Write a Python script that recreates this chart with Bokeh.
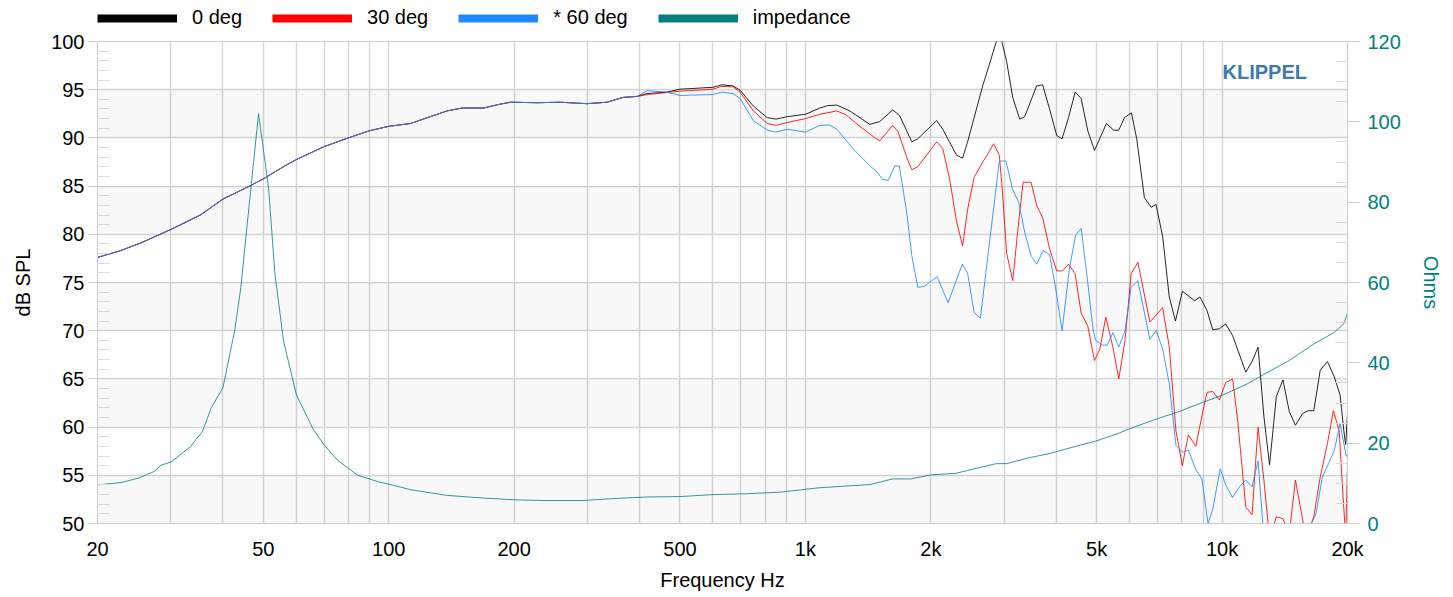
import numpy as np
from bokeh.plotting import figure
from bokeh.layouts import column
from bokeh.models import Range1d, LinearAxis, FixedTicker, Legend, LegendItem, Label, BoxAnnotation
from bokeh.embed import file_html
from bokeh.resources import INLINE

# ---------------- data ----------------
# common part of the three SPL curves (they coincide below ~400 Hz)
freq_low = [20, 22.7, 25.4, 30, 35.3, 40, 46.6, 50, 56.6, 60, 70, 80, 90, 100, 113, 121,
            138, 150, 169, 185, 196, 227, 258, 299, 334, 365, 394]
spl_low = [77.6, 78.3, 79.1, 80.5, 82.0, 83.65, 85.05, 85.75, 87.15, 87.75, 89.1, 90.0, 90.75,
           91.2, 91.5, 91.95, 92.8, 93.1, 93.1, 93.5, 93.7, 93.65, 93.7, 93.55, 93.7, 94.2, 94.3]

freq_0 = [417, 465, 500, 600, 630, 670, 697, 750, 810, 850, 905, 1000, 1083, 1130, 1190, 1278,
          1428, 1508, 1621, 1684, 1800, 1860, 2066, 2136, 2306, 2384, 2451, 2664, 2878, 2958,
          3041, 3145, 3268, 3360, 3589, 3710, 3855, 4010, 4130, 4280, 4440, 4590, 4760, 4940,
          5280, 5490, 5650, 5830, 6060, 6240, 6510, 6760, 6940, 7200, 7470, 7730, 8030, 8600,
          8850, 9200, 9500, 9850, 10200, 10600, 11400, 11800, 12200, 12600, 13000, 13500,
          14000, 14500, 15000, 15600, 16100, 16600, 17200, 17900, 18600, 19200, 19600, 19800,
          20000]
spl_0 = [94.6, 94.75, 95.05, 95.25, 95.5, 95.4, 94.95, 93.3, 92.1, 91.95, 92.2, 92.45, 93.1,
         93.35, 93.4, 92.8, 91.4, 91.7, 92.9, 92.3, 89.6, 89.9, 91.8, 90.9, 88.2, 87.9, 89.6,
         95.4, 100.1, 100.1, 97.9, 94.2, 91.95, 92.2, 95.4, 95.5, 93.0, 90.25, 89.9, 92.1,
         94.75, 94.1, 90.75, 88.7, 91.5, 90.8, 90.8, 92.1, 92.6, 89.9, 83.8, 82.8, 83.1, 79.8,
         73.5, 71.0, 74.1, 73.1, 73.5, 72.1, 70.1, 70.2, 70.7, 69.5, 65.7, 66.8, 68.3, 61.1,
         56.1, 63.2, 64.9, 61.6, 60.2, 61.4, 61.7, 61.7, 65.9, 66.8, 65.2, 63.3, 59.6, 58.2,
         61.4]

freq_30 = [417, 465, 500, 600, 630, 670, 697, 750, 810, 850, 905, 1000, 1083, 1190, 1250, 1360,
           1470, 1508, 1621, 1670, 1750, 1800, 1860, 2066, 2136, 2220, 2306, 2384, 2451, 2540,
           2664, 2730, 2830, 2920, 2970, 3041, 3145, 3250, 3330, 3480, 3590, 3710, 3855, 4010,
           4140, 4280, 4440, 4590, 4760, 4940, 5090, 5260, 5470, 5650, 5850, 6050, 6280, 6710,
           6940, 7200, 7470, 7750, 8030, 8300, 8650, 8950, 9200, 9500, 9850, 10200, 10600,
           10900, 11400, 11800, 12200, 12600, 13000, 13500, 14000, 14500, 15000, 15900, 16600,
           17200, 17900, 18500, 19100, 19500, 19800, 20000]
spl_30 = [94.5, 94.7, 94.85, 95.05, 95.35, 95.3, 94.75, 92.8, 91.5, 91.3, 91.6, 92.0, 92.45,
          92.8, 92.4, 91.1, 90.0, 89.7, 91.3, 90.6, 88.0, 86.7, 87.0, 89.6, 88.9, 85.7, 81.3,
          78.8, 82.6, 85.9, 87.5, 88.2, 89.4, 88.2, 84.5, 78.0, 75.2, 81.3, 85.4, 85.4, 83.0,
          81.7, 78.5, 76.2, 76.2, 76.9, 75.9, 71.8, 70.5, 66.9, 68.1, 71.4, 68.3, 65.0, 69.0,
          75.9, 77.1, 70.9, 71.6, 72.4, 68.3, 59.6, 56.0, 59.2, 58.0, 61.2, 63.6, 63.7, 62.8,
          64.6, 65.0, 60.7, 51.7, 50.9, 60.0, 54.5, 48.5, 50.7, 50.5, 49.0, 54.5, 48.5, 50.7,
          54.8, 58.3, 61.7, 59.6, 53.1, 48.5, 56.0]

freq_60 = [417, 465, 500, 600, 630, 670, 697, 750, 810, 850, 905, 1000, 1083, 1140, 1190, 1300,
           1430, 1490, 1530, 1580, 1640, 1680, 1750, 1800, 1860, 1930, 2070, 2200, 2380, 2450,
           2540, 2630, 2920, 3030, 3140, 3250, 3360, 3480, 3590, 3720, 3855, 3990, 4130, 4300,
           4450, 4590, 4740, 4900, 4970, 5170, 5300, 5470, 5650, 5850, 6050, 6280, 6710, 6950,
           7200, 7470, 7750, 8030, 8300, 8650, 8950, 9250, 9500, 9900, 10200, 10600, 11000,
           11400, 11800, 12200, 12600, 13500, 14500, 15500, 16300, 16800, 17400, 18100, 18600,
           19200, 19850, 20000]
spl_60 = [94.9, 94.75, 94.4, 94.5, 94.75, 94.6, 94.1, 91.8, 90.8, 90.6, 90.9, 90.6, 91.3, 91.35,
          90.9, 88.9, 87.1, 86.4, 85.7, 85.6, 87.1, 87.1, 82.3, 77.8, 74.5, 74.6, 75.6, 72.9,
          76.9, 76.0, 71.9, 71.3, 87.6, 87.6, 84.7, 83.3, 80.2, 77.8, 76.9, 78.3, 77.9, 74.3,
          70.0, 76.4, 79.9, 80.6, 75.7, 70.2, 69.0, 68.5, 68.5, 69.8, 68.3, 70.0, 74.5, 75.2,
          69.1, 70.0, 68.1, 64.5, 58.1, 57.4, 57.6, 55.6, 54.6, 50.0, 51.5, 55.7, 54.0, 52.7,
          53.8, 54.5, 53.8, 56.5, 48.5, 47.5, 47.0, 47.5, 49.8, 51.0, 54.8, 56.4, 57.6, 60.4,
          57.0, 57.0]

freq_imp = [20, 22.8, 25.1, 27.4, 28.4, 30, 33.4, 35.7, 37.5, 40, 42.7, 44.2, 45.7, 47.3, 48.7,
            51.5, 53.3, 55.9, 60, 65.7, 70, 75.5, 84.3, 95, 100, 113, 138, 165, 200, 240, 290,
            345, 417, 500, 600, 720, 870, 1080, 1430, 1620, 1790, 2000, 2300, 2450, 2870, 3040,
            3450, 3850, 4450, 4970, 5660, 6000, 7000, 7900, 9000, 10000, 11500, 13000, 14500,
            16600, 18600, 19600, 20000]
imp_ohm = [9.6, 10.2, 11.3, 13.0, 14.5, 15.3, 19.1, 22.9, 28.8, 33.8, 48.1, 59.0, 74.1, 89.2,
           102.0, 83.3, 62.3, 45.5, 32.1, 23.7, 19.5, 15.7, 12.0, 10.3, 9.8, 8.4, 7.0, 6.4, 5.9,
           5.7, 5.7, 6.2, 6.6, 6.7, 7.2, 7.4, 7.8, 8.9, 9.7, 11.1, 11.1, 12.1, 12.5, 13.2, 14.9,
           14.9, 16.4, 17.4, 19.2, 20.5, 22.5, 23.6, 26.1, 27.9, 30.2, 31.9, 34.8, 37.9, 40.6,
           44.7, 47.6, 49.7, 52.4]

x_ticks = [20, 50, 100, 200, 500, 1000, 2000, 5000, 10000, 20000]
x_tick_labels = ["20", "50", "100", "200", "500", "1k", "2k", "5k", "10k", "20k"]
series_names = ["0 deg", "30 deg", "* 60 deg", "impedance"]
series_colors = ["#000000", "#ff0000", "#1e88ff", "#008080"]

# ---------------- figure ----------------
FONT = "Liberation Sans"
TEAL = "#008080"
W = 1453
LEG_H = 29

p = figure(width=W, height=597 - LEG_H, x_axis_type="log",
           x_range=Range1d(20, 20000), y_range=Range1d(50, 100),
           output_backend="svg", toolbar_location=None,
           min_border_left=97, min_border_right=106, min_border_top=12, min_border_bottom=74)
p.outline_line_color = "#cccccc"
p.background_fill_color = "white"
p.border_fill_color = "white"

# alternating bands (every other 5 dB strip)
for lo in range(50, 100, 10):
    p.add_layout(BoxAnnotation(bottom=lo, top=lo + 5, fill_color="#000000", fill_alpha=0.028,
                               line_color=None, level="underlay"))

# grids
grid_x = []
for dec in [10, 100, 1000, 10000]:
    for m in range(1, 10):
        v = dec * m
        if 20 <= v <= 20000:
            grid_x.append(v)
grid_x.append(20000)
p.xgrid.ticker = FixedTicker(ticks=grid_x)
p.xgrid.grid_line_color = "#d6d6d6"
p.xgrid.grid_line_width = 1.5
p.ygrid.ticker = FixedTicker(ticks=list(range(50, 101, 5)))
p.ygrid.grid_line_color = "#d6d6d6"
p.ygrid.grid_line_width = 1.5

# x axis
p.xaxis.ticker = FixedTicker(ticks=x_ticks)
p.xaxis.major_label_overrides = {t: l for t, l in zip(x_ticks, x_tick_labels)}
p.xaxis.axis_label = "Frequency Hz"
p.xaxis.axis_line_color = "#cccccc"
p.xaxis.major_tick_line_color = None
p.xaxis.minor_tick_line_color = None
p.xaxis.major_label_standoff = 8
p.xaxis.axis_label_standoff = 6

# left y axis
p.yaxis.ticker = FixedTicker(ticks=list(range(50, 101, 5)),
                             minor_ticks=[v for v in range(50, 101) if v % 5])
p.yaxis.axis_label = "dB SPL"
p.yaxis.axis_line_color = "#cccccc"
p.yaxis.major_tick_line_color = "#cccccc"
p.yaxis.major_tick_out = 9
p.yaxis.major_tick_in = 0
p.yaxis.minor_tick_line_color = "#d9d9d9"
p.yaxis.minor_tick_in = 12
p.yaxis.minor_tick_out = 0
p.yaxis.major_label_standoff = 4
p.yaxis.axis_label_standoff = 14

# right y axis (impedance)
p.extra_y_ranges = {"ohm": Range1d(0, 120)}
ax_r = LinearAxis(y_range_name="ohm",
                  ticker=FixedTicker(ticks=list(range(0, 121, 20)),
                                     minor_ticks=[v for v in range(0, 121, 5) if v % 20]),
                  axis_label="Ohms")
ax_r.axis_line_color = "#cccccc"
ax_r.major_tick_line_color = "#cccccc"
ax_r.major_tick_out = 12
ax_r.major_tick_in = 0
ax_r.minor_tick_line_color = "#d9d9d9"
ax_r.minor_tick_in = 12
ax_r.minor_tick_out = 0
ax_r.major_label_standoff = 8
ax_r.axis_label_standoff = 16
ax_r.major_label_text_color = TEAL
ax_r.axis_label_text_color = TEAL
p.add_layout(ax_r, "right")

for ax in [p.xaxis[0], p.yaxis[0], ax_r]:
    ax.major_label_text_font = FONT
    ax.major_label_text_font_size = "20px"
    ax.axis_label_text_font = FONT
    ax.axis_label_text_font_size = "20px"
    ax.axis_label_text_font_style = "normal"
for ax in [p.xaxis[0], p.yaxis[0]]:
    ax.major_label_text_color = "#000000"
    ax.axis_label_text_color = "#000000"

# ---------------- curves ----------------
f0 = freq_low + freq_0
s0 = spl_low + spl_0
f30 = freq_low + freq_30
s30 = spl_low + spl_30
f60 = freq_low + freq_60
s60 = spl_low + spl_60

p.line(f0, s0, line_color=series_colors[0], line_width=1, line_alpha=0.85)
p.line(f30, s30, line_color=series_colors[1], line_width=1, line_alpha=0.85)
p.line(f60, s60, line_color=series_colors[2], line_width=1, line_alpha=0.85)
p.line(freq_imp, imp_ohm, line_color=series_colors[3], line_width=1, line_alpha=0.8,
       y_range_name="ohm")

# KLIPPEL mark
p.add_layout(Label(x=1125, y=452, x_units="screen", y_units="screen", text="KLIPPEL",
                   text_font=FONT, text_font_size="20px", text_font_style="bold",
                   text_color="#3b7ca8", text_baseline="middle"))

# ---------------- legend strip (separate small figure on top) ----------------
leg = figure(width=W, height=LEG_H, x_range=Range1d(0, 1), y_range=Range1d(0, 1),
             output_backend="svg", toolbar_location=None,
             x_axis_location=None, y_axis_location=None,
             min_border_left=0, min_border_right=0, min_border_top=0, min_border_bottom=0)
leg.grid.visible = False
leg.outline_line_color = None
leg.background_fill_color = "white"
leg.border_fill_color = "white"
items = []
for name, col in zip(series_names, series_colors):
    r = leg.line([np.nan], [np.nan], line_color=col, line_width=8)
    items.append(LegendItem(label=name, renderers=[r]))
legend = Legend(items=items, orientation="horizontal", location=(0, 0),
                glyph_width=80, glyph_height=20, label_standoff=15, spacing=30,
                padding=0, margin=0, border_line_alpha=0, background_fill_alpha=0,
                label_text_font=FONT, label_text_font_size="20px", label_height=20,
                label_text_color="#000000")
leg.add_layout(legend, "center")

layout = column(leg, p, spacing=0)
open("out.html", "w").write(file_html(layout, INLINE))
